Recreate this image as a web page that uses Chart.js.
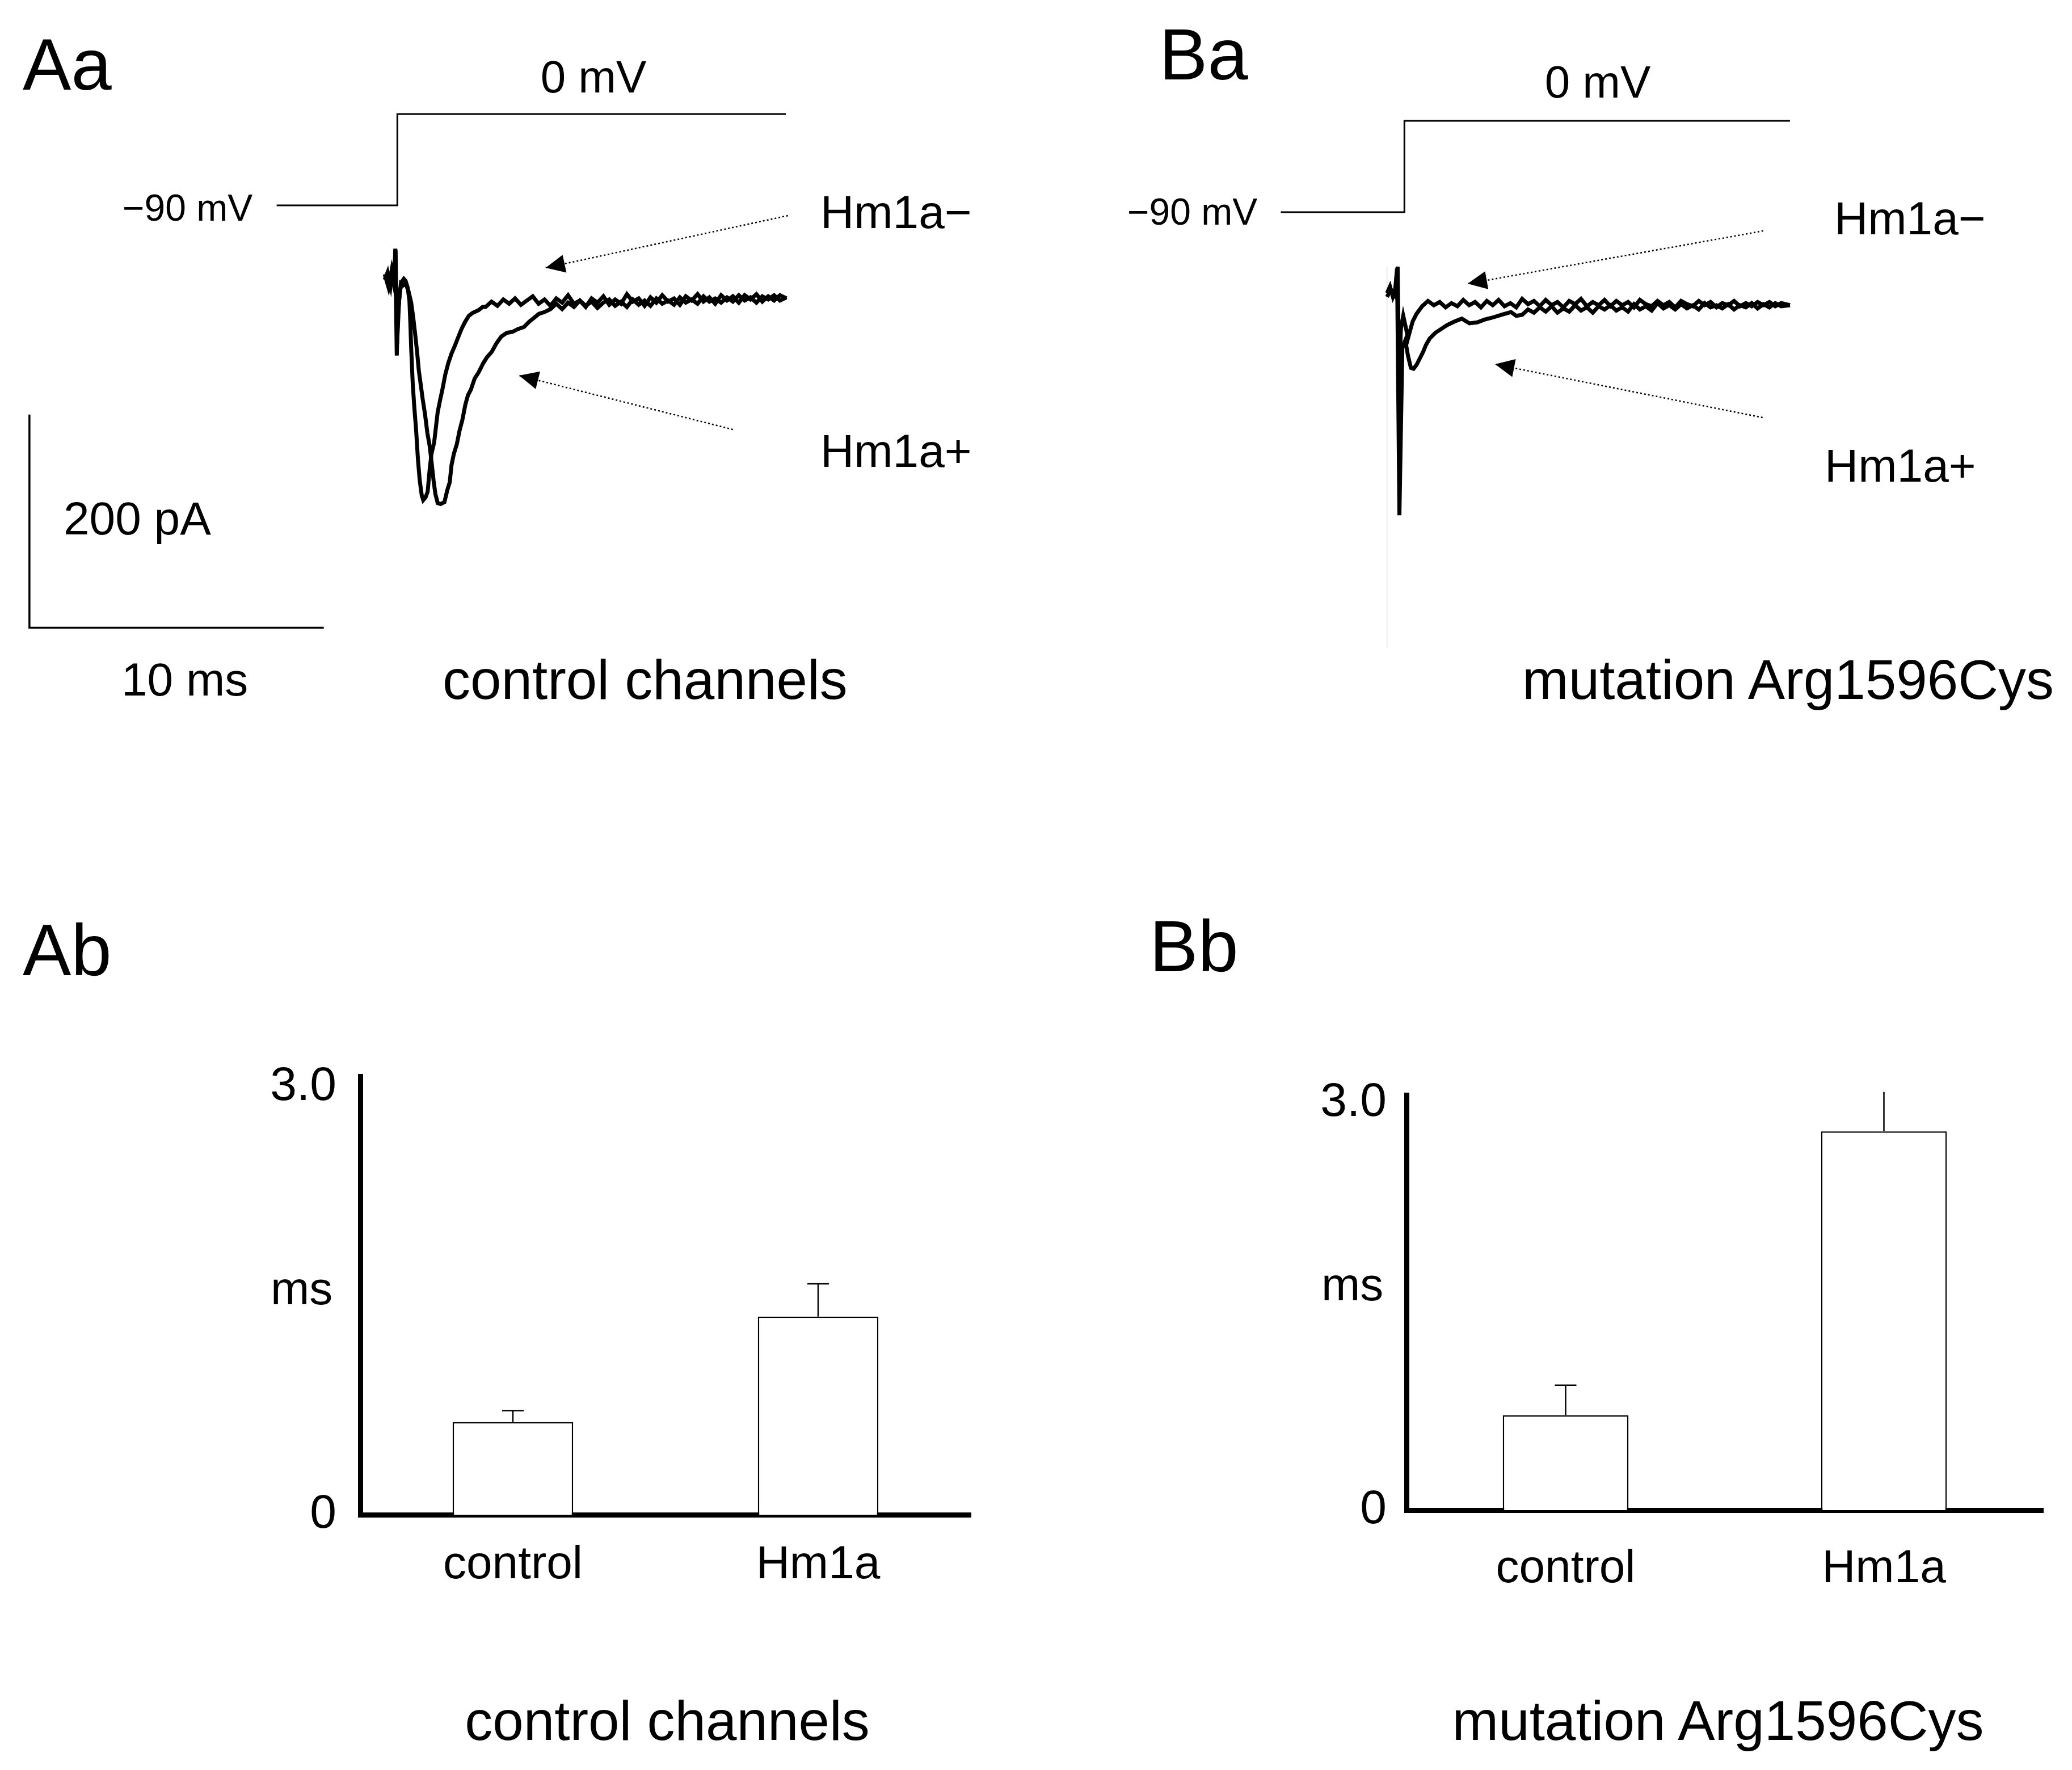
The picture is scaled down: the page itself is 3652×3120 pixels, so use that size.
<!DOCTYPE html>
<html>
<head>
<meta charset="utf-8">
<script src="https://cdn.jsdelivr.net/npm/chart.js@4.4.1/dist/chart.umd.min.js"></script>
<style>
  html, body { margin: 0; padding: 0; background: #fff; }
  #page { position: relative; width: 3652px; height: 3120px; overflow: hidden;
          font-family: "Liberation Sans", Arial, sans-serif; color: #000; }
  canvas { position: absolute; }
  .lbl { position: absolute; line-height: 1; white-space: nowrap; }
</style>
</head>
<body>
<div id="page">
  <canvas id="traceA" width="1520" height="1300" style="left:0px;top:0px"></canvas>
  <canvas id="traceB" width="1520" height="1300" style="left:1775px;top:12px"></canvas>
  <canvas id="barA" width="1296" height="1023" style="left:435px;top:1797px"></canvas>
  <canvas id="barB" width="1342" height="982" style="left:2279px;top:1830px"></canvas>
</div>
<script>
// ---- current traces: [time ms, current pA], inward current negative ----
const aMinus = [
  [-0.43,16.4],[-0.33,23.5],[-0.23,11.1],[-0.17,25.3],[-0.10,17.3],[-0.07,45.7],[-0.02,-54.6],[0.02,-15.5],
  [0.09,5.8],[0.15,14.6],[0.22,17.3],[0.28,15.5],[0.35,9.3],[0.41,-3.1],[0.44,-22.6],[0.47,-47.5],
  [0.52,-79.4],[0.57,-100.7],[0.64,-125.5],[0.70,-152.2],[0.76,-171.7],[0.83,-185.9],[0.88,-190.3],
  [0.96,-187.6],[1.03,-182.3],[1.10,-161.0],[1.16,-146.8],[1.25,-136.2],[1.31,-122.0],[1.37,-107.8],
  [1.46,-95.4],[1.53,-86.5],[1.63,-72.3],[1.73,-61.7],[1.84,-52.8],[1.95,-45.7],[2.05,-38.6],[2.18,-29.7],
  [2.31,-22.6],[2.43,-17.3],[2.56,-14.6],[2.76,-12.0],[2.90,-9],[3.0,-9],[3.2,-4],[3.4,-8],[3.6,-2],
  [3.8,-6],[4.0,-1],[4.2,-7],[4.4,-3],[4.6,1],[4.8,-6],[5.0,-2],[5.2,-8],[5.4,-1],[5.6,-5],[5.8,2],
  [6.0,-6],[6.2,-3],[6.4,-9],[6.6,-1],[6.8,-5],[7.0,1],[7.2,-7],[7.4,-2],[7.6,-6],[7.8,3],[8.0,-4],
  [8.2,-1],[8.4,-8],[8.6,0],[8.8,-5],[9.0,2],[9.2,-4],[9.4,-1],[9.6,-7],[9.8,1],[10.0,-3],[10.2,3],
  [10.4,-4],[10.6,0],[10.8,-6],[11.0,2],[11.2,-3],[11.4,1],[11.6,-5],[11.8,2],[12.0,-2],[12.2,3],
  [12.4,-4],[12.6,1],[12.8,-3],[13.0,2],[13.22,-1]
];
const aPlus = [
  [-0.43,21.7],[-0.30,9.3],[-0.20,24.4],[-0.12,12.8],[-0.06,44.8],[-0.01,-43.9],[0.06,-3.1],[0.12,12.8],
  [0.19,11.1],[0.28,12.8],[0.38,5.8],[0.47,-4.9],[0.54,-19.1],[0.60,-33.3],[0.67,-51.0],[0.73,-68.8],
  [0.80,-83.0],[0.86,-95.4],[0.94,-109.6],[1.02,-127.3],[1.10,-139.7],[1.16,-154.0],[1.23,-171.7],
  [1.29,-184.1],[1.37,-193.0],[1.47,-193.9],[1.60,-192.1],[1.70,-180.6],[1.78,-173.5],[1.84,-157.5],
  [1.92,-146.8],[2.02,-137.9],[2.11,-125.5],[2.21,-114.9],[2.31,-100.7],[2.40,-91.8],[2.50,-86.5],
  [2.63,-75.9],[2.76,-70.5],[2.92,-61.7],[3.04,-56.4],[3.21,-51.0],[3.37,-43.0],[3.53,-36.8],[3.72,-33.3],
  [3.91,-32.4],[4.10,-29.7],[4.30,-27.9],[4.49,-22.6],[4.65,-19.1],[4.81,-15.5],[5.00,-13.8],[5.20,-11.1],
  [5.4,-6],[5.6,-11],[5.8,-5],[6.0,-9],[6.2,-3],[6.4,-8],[6.6,-4],[6.8,-10],[7.0,-5],[7.2,-2],[7.4,-8],
  [7.6,-4],[7.8,-9],[8.0,-2],[8.2,-7],[8.4,-3],[8.6,-8],[8.8,-1],[9.0,-6],[9.2,-3],[9.4,-7],[9.6,0],
  [9.8,-5],[10.0,-2],[10.2,-6],[10.4,1],[10.6,-4],[10.8,-1],[11.0,-5],[11.2,0],[11.4,-4],[11.6,2],
  [11.8,-3],[12.0,0],[12.2,-5],[12.4,1],[12.6,-2],[12.8,2],[13.0,-3],[13.22,0]
];
const bMinus = [
  [-0.59,10.4],[-0.49,16.6],[-0.39,6.8],[-0.30,13.0],[-0.23,35.2],[-0.18,-71.3],[-0.12,-23.3],[-0.04,-10.9],
  [0.06,-23.4],[0.12,-32.2],[0.19,-25.1],[0.28,-16.3],[0.41,-9.2],[0.6,-2],[0.8,3],[1.0,-1],[1.2,2],
  [1.4,-3],[1.6,1],[1.8,-2],[2.0,4],[2.2,-1],[2.4,2],[2.6,-3],[2.8,3],[3.0,-1],[3.2,4],[3.4,-2],[3.6,1],
  [3.8,-3],[4.0,5],[4.2,0],[4.4,3],[4.6,-2],[4.8,4],[5.0,-1],[5.2,2],[5.4,-3],[5.6,3],[5.8,0],[6.0,5],
  [6.2,-2],[6.4,2],[6.6,-1],[6.8,4],[7.0,-2],[7.2,3],[7.4,-1],[7.6,2],[7.8,-3],[8.0,4],[8.2,0],[8.4,-2],
  [8.6,3],[8.8,-1],[9.0,2],[9.2,-3],[9.4,3],[9.6,0],[9.8,-2],[10.0,3],[10.2,-1],[10.4,2],[10.6,-3],
  [10.8,1],[11.0,-1],[11.2,3],[11.4,-2],[11.6,1],[11.8,-2],[12.0,2],[12.2,-1],[12.4,2],[12.6,-2],
  [12.8,1],[13.1,-1]
];
const bPlus = [
  [-0.59,6.8],[-0.46,13.9],[-0.33,8.6],[-0.25,33.4],[-0.17,-198],[-0.07,-41.1],[0.03,-34.0],[0.12,-48.2],
  [0.22,-59.7],[0.31,-60.6],[0.41,-57.1],[0.51,-51.7],[0.64,-44.6],[0.73,-38.4],[0.86,-32.2],[1.05,-26.9],
  [1.25,-23.3],[1.44,-19.8],[1.70,-16.3],[1.95,-13.6],[2.21,-18.0],[2.47,-17.1],[2.72,-14.5],[2.98,-12.7],
  [3.30,-10.0],[3.62,-7.4],[3.80,-11],[4.0,-10],[4.2,-5],[4.4,-8],[4.6,-3],[4.8,-7],[5.0,-2],[5.2,-8],
  [5.4,-4],[5.6,-7],[5.8,-1],[6.0,-6],[6.2,-3],[6.4,-8],[6.6,-2],[6.8,-5],[7.0,-1],[7.2,-6],[7.4,-3],
  [7.6,-7],[7.8,0],[8.0,-5],[8.2,-2],[8.4,-6],[8.6,1],[8.8,-4],[9.0,-1],[9.2,-5],[9.4,0],[9.6,-4],
  [9.8,-1],[10.0,-5],[10.2,1],[10.4,-3],[10.6,-1],[10.8,-4],[11.0,0],[11.2,-5],[11.4,-1],[11.6,-3],
  [11.8,1],[12.0,-4],[12.2,0],[12.4,-3],[12.6,1],[12.8,-2],[13.1,-1]
];
// faint vertical trace line left of the mutant record
const bMarker = [[-0.59,35.2],[-0.59,-323]];

// ---- voltage protocol: [time ms, mV] ----
const stepA = [[-4.1,-90],[0,-90],[0,0],[13.2,0]];
const stepB = [[-4.2,-90],[0,-90],[0,0],[13.1,0]];

// ---- calibration bar: 10 ms, 200 pA ----
const scaleBar = [[-12.5,-110],[-12.5,-310],[-2.5,-310]];

// ---- label arrows: [from, to] in [ms, pA] ----
const arrowsA = [[[13.27,76.7],[5.04,27.7]], [[11.40,-124],[4.14,-73.4]]];
const arrowsB = [[[12.19,68.7],[2.15,19.2]], [[12.17,-106.4],[3.08,-56.4]]];

// ---- time constants (ms) ----
const barCats = ['control', 'Hm1a'];
const ctlMeans = [0.65, 1.39];
const ctlErrors = [0.08, 0.23];
const mutMeans = [0.70, 2.79];
const mutErrors = [0.22, 0.29];
const yTicks = [0, 3.0];

Chart.defaults.font.family = "'Liberation Sans', Arial, sans-serif";
Chart.defaults.color = '#000';

const toXY = arr => arr.map(p => ({ x: p[0], y: p[1] }));

const arrowHeads = {
  id: 'arrowHeads',
  afterDatasetsDraw(chart) {
    const ctx = chart.ctx;
    chart.data.datasets.forEach((ds, i) => {
      if (!ds.arrow) return;
      const pts = chart.getDatasetMeta(i).data;
      const a = pts[pts.length - 2], b = pts[pts.length - 1];
      const ang = Math.atan2(b.y - a.y, b.x - a.x);
      const len = 34, half = 16;
      const bx = b.x - len * Math.cos(ang), by = b.y - len * Math.sin(ang);
      ctx.save();
      ctx.fillStyle = '#000';
      ctx.beginPath();
      ctx.moveTo(b.x, b.y);
      ctx.lineTo(bx + half * Math.sin(ang), by - half * Math.cos(ang));
      ctx.lineTo(bx - half * Math.sin(ang), by + half * Math.cos(ang));
      ctx.closePath();
      ctx.fill();
      ctx.restore();
    });
  }
};

function traceChart(id, minus, plus, step, arrows, marker) {
  const line = (data, w, extra) => Object.assign({
    data: toXY(data), borderColor: '#000', borderWidth: w, pointRadius: 0, tension: 0, fill: false
  }, extra || {});
  const sets = [
    line(minus, 7),
    line(plus, 7),
    line(step, 3, { yAxisID: 'mv' }),
  ];
  arrows.forEach(a => sets.push(line(a, 2.5, { borderDash: [3, 4], arrow: true })));
  if (id === 'traceA') sets.push(line(scaleBar, 3.5));
  if (marker) sets.push(line(marker, 2, { borderColor: '#ececec' }));
  return new Chart(document.getElementById(id), {
    type: 'line',
    data: { datasets: sets },
    options: {
      responsive: false, animation: false, devicePixelRatio: 1,
      layout: { padding: 0 },
      plugins: { legend: { display: false }, tooltip: { enabled: false } },
      scales: {
        x: { type: 'linear', min: -13.5, max: 15.8, display: false },
        y: { type: 'linear', min: -413, max: 279, display: false },
        mv: { type: 'linear', min: -614.4, max: 112.36, display: false }
      }
    },
    plugins: [arrowHeads]
  });
}

traceChart('traceA', aMinus, aPlus, stepA, arrowsA, null);
traceChart('traceB', bMinus, bPlus, stepB, arrowsB, bMarker);

const errorBars = {
  id: 'errorBars',
  afterDatasetsDraw(chart) {
    const ctx = chart.ctx, y = chart.scales.y;
    chart.data.datasets.forEach((ds, i) => {
      chart.getDatasetMeta(i).data.forEach((bar, j) => {
        const top = y.getPixelForValue(ds.data[j] + ds.errors[j]);
        const cap = ds.errorCaps[j] / 2;
        ctx.save();
        ctx.strokeStyle = '#000';
        ctx.lineWidth = 2.5;
        ctx.beginPath();
        ctx.moveTo(bar.x, bar.y);
        ctx.lineTo(bar.x, top);
        if (cap) { ctx.moveTo(bar.x - cap, top); ctx.lineTo(bar.x + cap, top); }
        ctx.stroke();
        ctx.restore();
      });
    });
  }
};

function barChart(id, means, errors, caps, yMax, tickPad, labelPad) {
  return new Chart(document.getElementById(id), {
    type: 'bar',
    data: {
      labels: barCats,
      datasets: [{
        data: means, errors: errors, errorCaps: caps,
        backgroundColor: '#fff', borderColor: '#000', borderWidth: 2.5,
        barPercentage: 0.395, categoryPercentage: 1
      }]
    },
    options: {
      responsive: false, animation: false, devicePixelRatio: 1,
      layout: { padding: { top: 100, right: 20, left: 0, bottom: 0 } },
      plugins: { legend: { display: false }, tooltip: { enabled: false } },
      scales: {
        x: {
          grid: { display: false, drawTicks: false },
          border: { display: true, width: 9, color: '#000' },
          ticks: { font: { size: 82 }, padding: labelPad },
          afterFit: s => { s.height = 150; }
        },
        y: {
          min: 0, max: yMax,
          grid: { display: false, drawTicks: false },
          border: { display: true, width: 9, color: '#000' },
          afterBuildTicks: s => { s.ticks = yTicks.map(v => ({ value: v })); },
          ticks: { font: { size: 84 }, padding: tickPad, callback: v => v === 0 ? '0' : v.toFixed(1) },
          afterFit: s => { s.width = 200; }
        }
      }
    },
    plugins: [errorBars]
  });
}

barChart('barA', ctlMeans, ctlErrors, [38, 38], 3.076, 42, 40);
barChart('barB', mutMeans, mutErrors, [38, 0], 3.058, 35, 55);

// ---- text: x, baseline y, font size ----
const texts = [
  ['Aa', 40, 158, 128], ['Ba', 2043, 140, 128], ['Ab', 40, 1719, 128], ['Bb', 2026, 1712, 128],
  ['0 mV', 1046, 164, 80, 'c'], ['\u221290 mV', 216, 389, 66],
  ['Hm1a\u2212', 1446, 402, 82], ['Hm1a+', 1446, 823, 82],
  ['200 pA', 112, 942, 82], ['10 ms', 214, 1226, 82], ['control channels', 780, 1232, 98],
  ['0 mV', 2816, 173, 80, 'c'], ['\u221290 mV', 1987, 396, 66],
  ['Hm1a\u2212', 3233, 413, 82], ['Hm1a+', 3216, 849, 82],
  ['mutation Arg1596Cys', 2683, 1232, 98],
  ['ms', 477, 2299, 82], ['ms', 2329, 2292, 82],
  ['control channels', 1176, 3067, 98, 'c'], ['mutation Arg1596Cys', 3028, 3067, 98, 'c']
];
const page = document.getElementById('page');
texts.forEach(([t, x, y, s, al]) => {
  const d = document.createElement('div');
  d.className = 'lbl';
  d.textContent = t;
  d.style.fontSize = s + 'px';
  d.style.left = x + 'px';
  d.style.top = (y - 0.8465 * s) + 'px';
  if (al === 'c') d.style.transform = 'translateX(-50%)';
  page.appendChild(d);
});
</script>
</body>
</html>
